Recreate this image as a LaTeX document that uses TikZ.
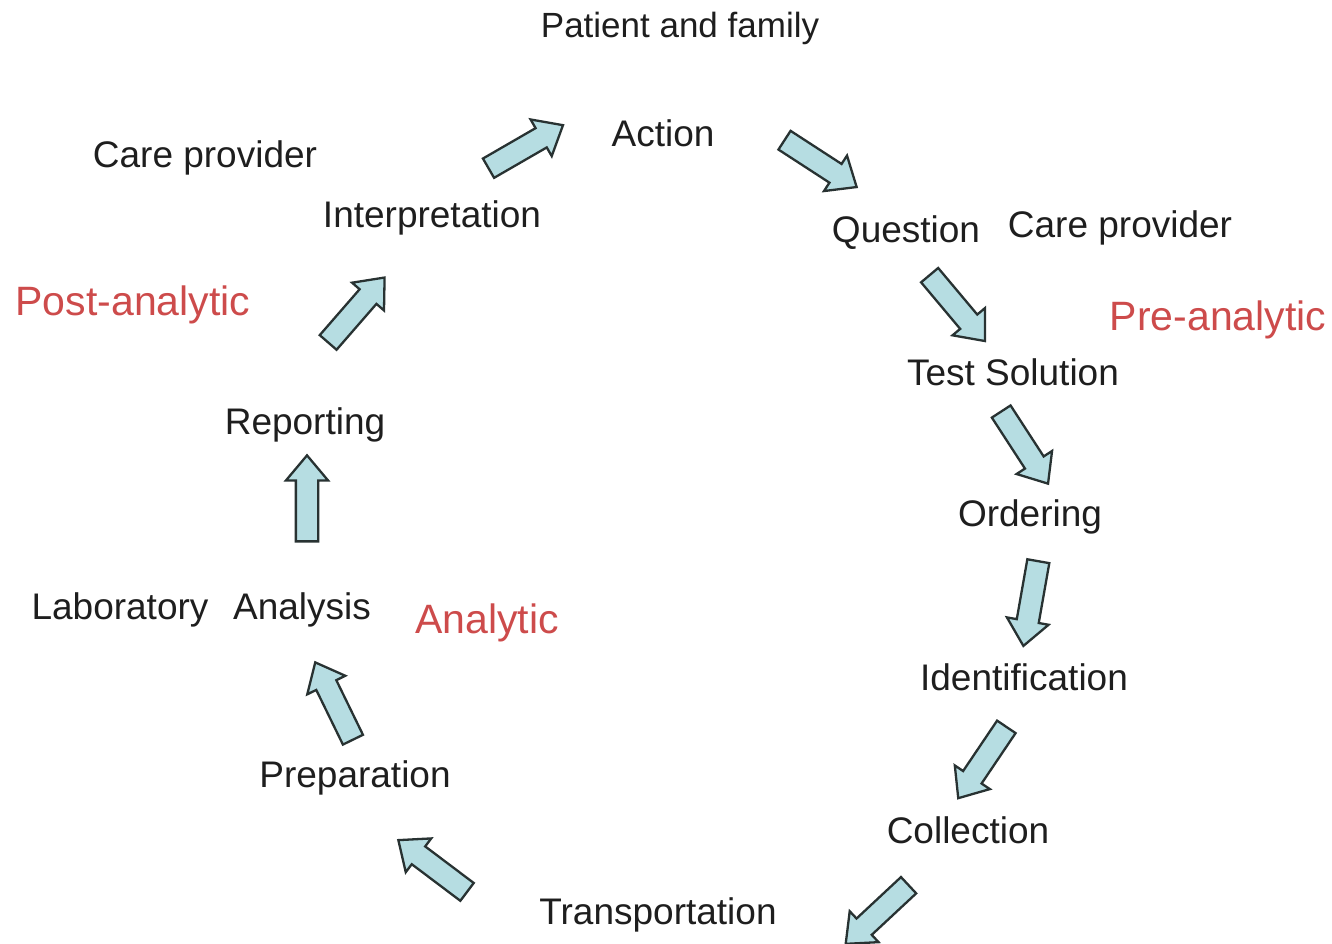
\documentclass[tikz,border=0pt]{standalone}
\usepackage{fontspec}
\setmainfont{Liberation Sans}
\usetikzlibrary{shapes.arrows}
\definecolor{txt}{RGB}{30,30,30}
\definecolor{phase}{RGB}{205,75,75}
\definecolor{arrfill}{RGB}{182,221,226}
\definecolor{arrline}{RGB}{40,50,50}
\tikzset{
  lbl/.style={text=txt, inner sep=0pt, font=\fontsize{37}{44}\selectfont},
  small/.style={text=txt, inner sep=0pt, font=\fontsize{35}{42}\selectfont},
  phaselbl/.style={text=phase, inner sep=0pt, font=\fontsize{41}{48}\selectfont},
  blockarrow/.style={single arrow, draw=arrline, fill=arrfill, line width=2.3pt,
    minimum height=86pt, single arrow head extend=10pt,
    single arrow tip angle=80, inner xsep=0pt, inner ysep=10pt, text width=0pt,
    text height=0pt, text depth=0pt, anchor=center}
}
\begin{document}
\begin{tikzpicture}[x=1pt,y=-1pt]
\useasboundingbox (0,0) rectangle (1332,943);
% labels
\node[small] (patient) at (680,28) {Patient and family};
\node[lbl] (action) at (663,133) {Action};
\node[lbl] (careL) at (205,158) {Care provider};
\node[lbl] (interp) at (432,218) {Interpretation};
\node[lbl] (question) at (906,233) {Question};
\node[lbl] (careR) at (1120,228) {Care provider};
\node[phaselbl] (pre) at (1218,320) {Pre-analytic};
\node[phaselbl] (post) at (133,305) {Post-analytic};
\node[lbl] (test) at (1013,372) {Test Solution};
\node[lbl] (reporting) at (305,425) {Reporting};
\node[lbl] (ordering) at (1030,517) {Ordering};
\node[lbl] (lab) at (120,610) {Laboratory};
\node[lbl] (analysis) at (302,610) {Analysis};
\node[phaselbl] (analytic) at (487,623) {Analytic};
\node[lbl] (ident) at (1024,677) {Identification};
\node[lbl] (prep) at (355,778) {Preparation};
\node[lbl] (coll) at (968,830) {Collection};
\node[lbl] (transp) at (658,915) {Transportation};
% block arrows
\node[blockarrow, rotate=30] (a1) at (520,150) {};
\node[blockarrow, rotate=-33] (a2) at (815,160) {};
\node[blockarrow, rotate=-50] (a3) at (953,303) {};
\node[blockarrow, rotate=-57] (a4) at (1021,442) {};
\node[blockarrow, rotate=-100] (a5) at (1032,597) {};
\node[blockarrow, rotate=-124] (a6) at (986,757) {};
\node[blockarrow, rotate=-137] (a7) at (882,910) {};
\node[blockarrow, rotate=143] (a8) at (438,870) {};
\node[blockarrow, rotate=116] (a9) at (337,707) {};
\node[blockarrow, rotate=90] (a10) at (307,505) {};
\node[blockarrow, rotate=49] (a11) at (352,315) {};
\end{tikzpicture}
\end{document}
